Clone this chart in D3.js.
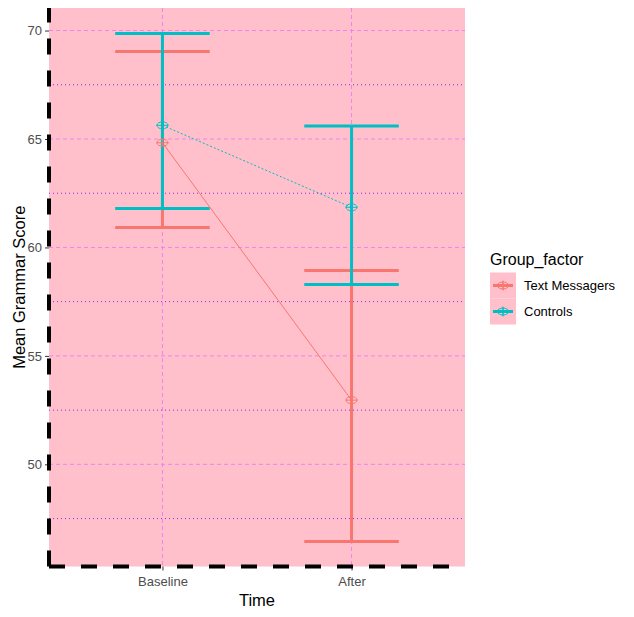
<!DOCTYPE html>
<html>
<head>
<meta charset="utf-8">
<script src="https://cdn.jsdelivr.net/npm/d3@7"></script>
<style>
  body { margin: 0; background: #fff; }
  svg { font-family: "Liberation Sans", Arial, sans-serif; }
</style>
</head>
<body>
<div id="chart"></div>
<script>
// Data
const times = ['Baseline', 'After'];
const groups = ['Text Messagers', 'Controls'];
const groupColors = ['#F8766D', '#00BFC4'];
const textMean = [64.83, 52.96];
const textLower = [60.92, 46.44];
const textUpper = [69.04, 58.94];
const ctrlMean = [65.63, 61.85];
const ctrlLower = [61.80, 58.29];
const ctrlUpper = [69.87, 65.60];
const yTicks = [50, 55, 60, 65, 70];
const yMinor = [47.5, 52.5, 57.5, 62.5, 67.5];

const series = [
    { name: groups[0], color: groupColors[0], mean: textMean, lower: textLower, upper: textUpper, dash: null },
    { name: groups[1], color: groupColors[1], mean: ctrlMean, lower: ctrlLower, upper: ctrlUpper, dash: '2,2' }
];

const width = 634, height = 617;
const margin = { top: 8, right: 169, bottom: 50.5, left: 49 };
const pw = width - margin.left - margin.right;
const ph = height - margin.top - margin.bottom;

const svg = d3.select('#chart').append('svg')
    .attr('width', width)
    .attr('height', height);

const x = d3.scalePoint().domain(times).range([0, pw]).padding(0.6);
const y = d3.scaleLinear().domain([45.29, 71.04]).range([ph, 0]);

const g = svg.append('g').attr('transform', `translate(${margin.left},${margin.top})`);

// panel
g.append('rect').attr('width', pw).attr('height', ph).attr('fill', '#FFC0CB');

// minor grid (dotted purple)
g.selectAll('.minor').data(yMinor).enter().append('line')
    .attr('x1', 0).attr('x2', pw)
    .attr('y1', d => y(d)).attr('y2', d => y(d))
    .attr('stroke', '#A020F0').attr('stroke-width', 1).attr('stroke-dasharray', '1,3');

// major grid (dashed violet)
g.selectAll('.majorY').data(yTicks).enter().append('line')
    .attr('x1', 0).attr('x2', pw)
    .attr('y1', d => y(d)).attr('y2', d => y(d))
    .attr('stroke', '#EE82EE').attr('stroke-width', 1).attr('stroke-dasharray', '4,3');
g.selectAll('.majorX').data(times).enter().append('line')
    .attr('y1', 0).attr('y2', ph)
    .attr('x1', d => x(d)).attr('x2', d => x(d))
    .attr('stroke', '#EE82EE').attr('stroke-width', 1).attr('stroke-dasharray', '4,3');

const hw = x.step() * 0.25;

// error bars
series.forEach(s => {
    const eb = g.append('g');
    times.forEach((t, i) => {
        const cx = x(t);
        eb.append('line').attr('x1', cx).attr('x2', cx)
            .attr('y1', y(s.lower[i])).attr('y2', y(s.upper[i]))
            .attr('stroke', s.color).attr('stroke-width', 3);
        [s.lower[i], s.upper[i]].forEach(v => {
            eb.append('line').attr('x1', cx - hw).attr('x2', cx + hw)
                .attr('y1', y(v)).attr('y2', y(v))
                .attr('stroke', s.color).attr('stroke-width', 3);
        });
    });
});

// lines
const line = d3.line().x((d, i) => x(times[i])).y(d => y(d));
series.forEach(s => {
    g.append('path').datum(s.mean)
        .attr('d', line)
        .attr('fill', 'none')
        .attr('stroke', s.color)
        .attr('stroke-width', 1)
        .attr('stroke-dasharray', s.dash);
});

// points (circle-plus)
function drawPoint(sel, cx, cy, color) {
    sel.append('ellipse').attr('cx', cx).attr('cy', cy).attr('rx', 5.5).attr('ry', 3.5)
        .attr('fill', 'none').attr('stroke', color).attr('stroke-width', 1);
    sel.append('line').attr('x1', cx - 6).attr('x2', cx + 6).attr('y1', cy).attr('y2', cy)
        .attr('stroke', color).attr('stroke-width', 1);
    sel.append('line').attr('x1', cx).attr('x2', cx).attr('y1', cy - 4).attr('y2', cy + 4)
        .attr('stroke', color).attr('stroke-width', 1);
}
series.forEach(s => {
    s.mean.forEach((v, i) => drawPoint(g, x(times[i]), y(v), s.color));
});

// axes
const yAxis = g.append('g').call(d3.axisLeft(y).tickValues(yTicks).tickSize(4).tickPadding(3));
yAxis.select('.domain').remove();
yAxis.selectAll('text').attr('fill', '#4D4D4D').style('font-size', '13px');
yAxis.selectAll('line').attr('stroke', '#333');

const xAxis = g.append('g').attr('transform', `translate(0,${ph})`)
    .call(d3.axisBottom(x).tickSize(4).tickPadding(6));
xAxis.select('.domain').remove();
xAxis.selectAll('text').attr('fill', '#4D4D4D').style('font-size', '13px');
xAxis.selectAll('line').attr('stroke', '#333');

// thick dashed axis lines
g.append('line').attr('x1', 0).attr('x2', 0).attr('y1', ph).attr('y2', 0)
    .attr('stroke', '#000').attr('stroke-width', 4).attr('stroke-dasharray', '16,16');
g.append('line').attr('x1', 0).attr('x2', pw).attr('y1', ph).attr('y2', ph)
    .attr('stroke', '#000').attr('stroke-width', 4).attr('stroke-dasharray', '16,16');

// axis titles
svg.append('text')
    .attr('x', margin.left + pw / 2).attr('y', 606)
    .attr('text-anchor', 'middle').style('font-size', '16.5px').text('Time');
svg.append('text')
    .attr('transform', `translate(24.5,${margin.top + ph / 2}) rotate(-90)`)
    .attr('text-anchor', 'middle').style('font-size', '16.5px').text('Mean Grammar Score');

// legend
const lg = svg.append('g').attr('transform', 'translate(490,265)');
lg.append('text').attr('x', 0).attr('y', 0).style('font-size', '16px').text('Group_factor');
series.forEach((s, i) => {
    const ky = 7.5 + i * 26;
    lg.append('rect').attr('x', 0).attr('y', ky).attr('width', 26).attr('height', 26).attr('fill', '#FFC0CB');
    const cy = ky + 13, cx = 13;
    lg.append('line').attr('x1', 3).attr('x2', 23).attr('y1', cy).attr('y2', cy)
        .attr('stroke', s.color).attr('stroke-width', 3);
    lg.append('line').attr('x1', cx).attr('x2', cx).attr('y1', cy - 5).attr('y2', cy + 5)
        .attr('stroke', s.color).attr('stroke-width', 1);
    drawPoint(lg, cx, cy, s.color);
    lg.append('text').attr('x', 34).attr('y', cy + 4.5).style('font-size', '13px').text(s.name);
});
</script>
</body>
</html>
